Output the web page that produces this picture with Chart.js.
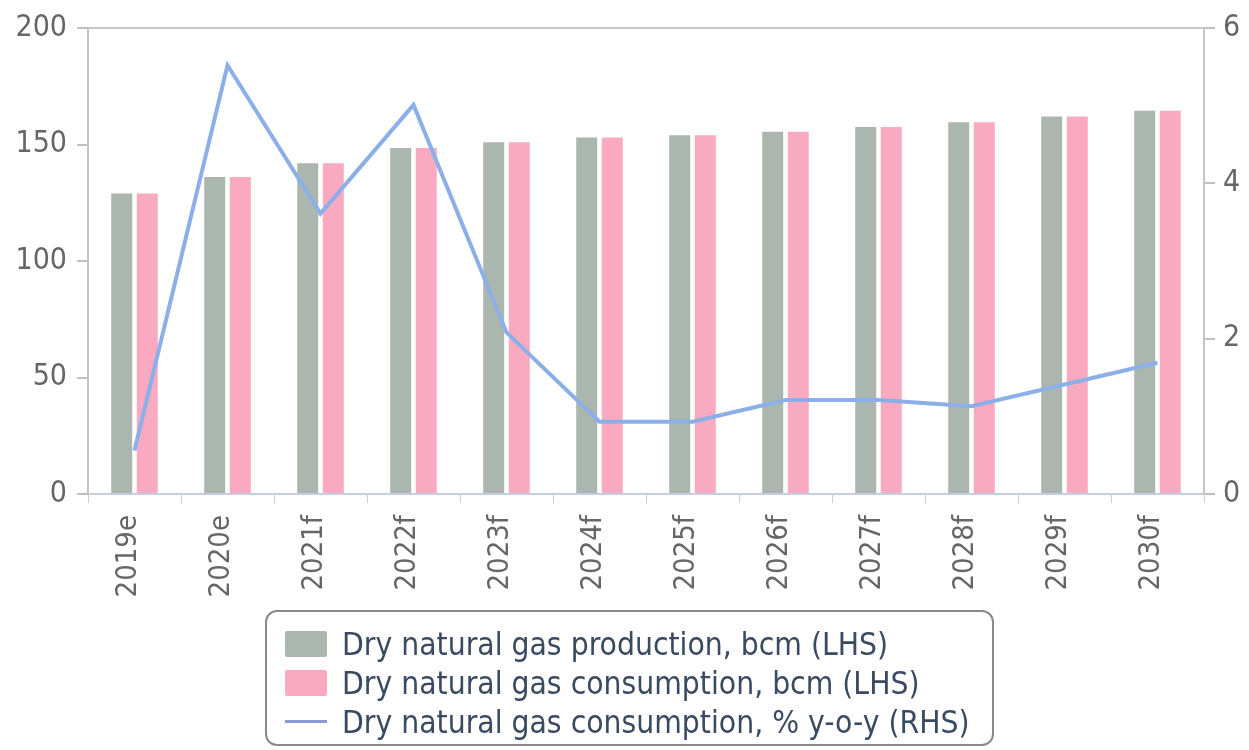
<!DOCTYPE html>
<html>
<head>
<meta charset="utf-8">
<script src="https://cdn.jsdelivr.net/npm/chart.js@4/dist/chart.umd.min.js"></script>
<style>
  body { margin: 0; background: #fff; }
  #wrap { position: relative; width: 1249px; height: 750px; }
  #legend {
    position: absolute; left: 265px; top: 610px; width: 729px; height: 136px;
    border: 2px solid #8a8a8a; border-radius: 12px; box-sizing: border-box;
    padding-top: 12px; font-family: 'DejaVu Sans Condensed', 'DejaVu Sans', sans-serif;
    font-size: 31.5px; color: #3a4a60;
  }
  .item { display: flex; align-items: center; height: 39px; padding-left: 18px; white-space: nowrap; }
  .sw { width: 42px; height: 26px; margin-right: 15px; border-radius: 2px; }
  .ln { width: 42px; height: 3px; margin-right: 15px; }
</style>
</head>
<body>
<div id="wrap">
  <canvas id="cv" width="1249" height="750"></canvas>
  <div id="legend"></div>
</div>
<script>
const years = ['2019e', '2020e', '2021f', '2022f', '2023f', '2024f', '2025f', '2026f', '2027f', '2028f', '2029f', '2030f']
const production = [129, 136, 142, 148.5, 151, 153, 154, 155.5, 157.5, 159.5, 162, 164.5]
const consumption = [129, 136, 142, 148.5, 151, 153, 154, 155.5, 157.5, 159.5, 162, 164.5]
const consumptionYoy = [0.56, 5.52, 3.61, 5.01, 2.08, 0.93, 0.93, 1.21, 1.21, 1.13, 1.41, 1.69]
const leftTicks = [0, 50, 100, 150, 200]
const rightTicks = [0, 2, 4, 6]

const fontFamily = "'DejaVu Sans Condensed', 'DejaVu Sans', sans-serif"
const yFont = { family: fontFamily, size: 30 }
const xFont = { family: fontFamily, size: 29 }

const ctx = document.getElementById('cv').getContext('2d')
const chart = new Chart(ctx, {
	type: 'bar',
	data: {
		labels: years,
		datasets: [
			{
				type: 'line',
				label: 'Dry natural gas consumption, % y-o-y (RHS)',
				data: consumptionYoy,
				yAxisID: 'y1',
				borderColor: '#8cafe8',
				backgroundColor: '#8cafe8',
				borderWidth: 4,
				pointRadius: 0,
				tension: 0,
				order: 0,
				legendOrder: 2
			},
			{
				label: 'Dry natural gas production, bcm (LHS)',
				data: production,
				yAxisID: 'y',
				backgroundColor: '#abb6af',
				categoryPercentage: 0.55,
				barPercentage: 0.82,
				order: 1,
				legendOrder: 0
			},
			{
				label: 'Dry natural gas consumption, bcm (LHS)',
				data: consumption,
				yAxisID: 'y',
				backgroundColor: '#f9aac0',
				categoryPercentage: 0.55,
				barPercentage: 0.82,
				order: 1,
				legendOrder: 1
			}
		]
	},
	options: {
		responsive: false,
		animation: false,
		layout: { autoPadding: false, padding: { top: 22, left: 0, right: 0, bottom: 0 } },
		plugins: {
			legend: { display: false },
			tooltip: { enabled: false }
		},
		scales: {
			x: {
				offset: true,
				grid: { display: true, drawOnChartArea: false, offset: true, tickLength: 9, tickColor: '#c4cad6' },
				border: { color: '#c6cfe0', width: 2 },
				ticks: { font: xFont, color: '#666', minRotation: 90, maxRotation: 90, padding: 12, labelOffset: -6, autoSkip: false },
				afterFit: (s) => { s.height = 750 - 494 }
			},
			y: {
				position: 'left',
				min: 0,
				max: 200,
				afterBuildTicks: (s) => { s.ticks = leftTicks.map(v => ({ value: v })) },
				grid: {
					color: (c) => c.tick && c.tick.value === 200 ? '#c8c8c8' : 'rgba(0,0,0,0)',
					tickColor: '#c0c0c0',
					tickLength: 11,
					lineWidth: 2
				},
				border: { color: '#c4c4c4', width: 2 },
				ticks: { font: yFont, color: '#666', padding: 10 },
				afterFit: (s) => { s.width = 88 }
			},
			y1: {
				position: 'right',
				min: 0,
				max: 6,
				afterBuildTicks: (s) => { s.ticks = rightTicks.map(v => ({ value: v })) },
				grid: { drawOnChartArea: false, tickColor: '#c0c0c0', tickLength: 11, lineWidth: 2 },
				border: { color: '#c4c4c4', width: 2 },
				ticks: { font: yFont, color: '#666', padding: 8 },
				afterFit: (s) => { s.width = 1249 - 1204 }
			}
		}
	}
})

// legend in the order of the reference
const legendEl = document.getElementById('legend')
const sorted = chart.data.datasets.slice().sort((a, b) => a.legendOrder - b.legendOrder)
sorted.forEach((ds) => {
	const row = document.createElement('div')
	row.className = 'item'
	const mark = document.createElement('span')
	if (ds.type === 'line') {
		mark.className = 'ln'
		mark.style.background = '#8a9ad6'
	} else {
		mark.className = 'sw'
		mark.style.background = ds.backgroundColor
	}
	row.appendChild(mark)
	const txt = document.createElement('span')
	txt.textContent = ds.label
	row.appendChild(txt)
	legendEl.appendChild(row)
})
</script>
</body>
</html>
